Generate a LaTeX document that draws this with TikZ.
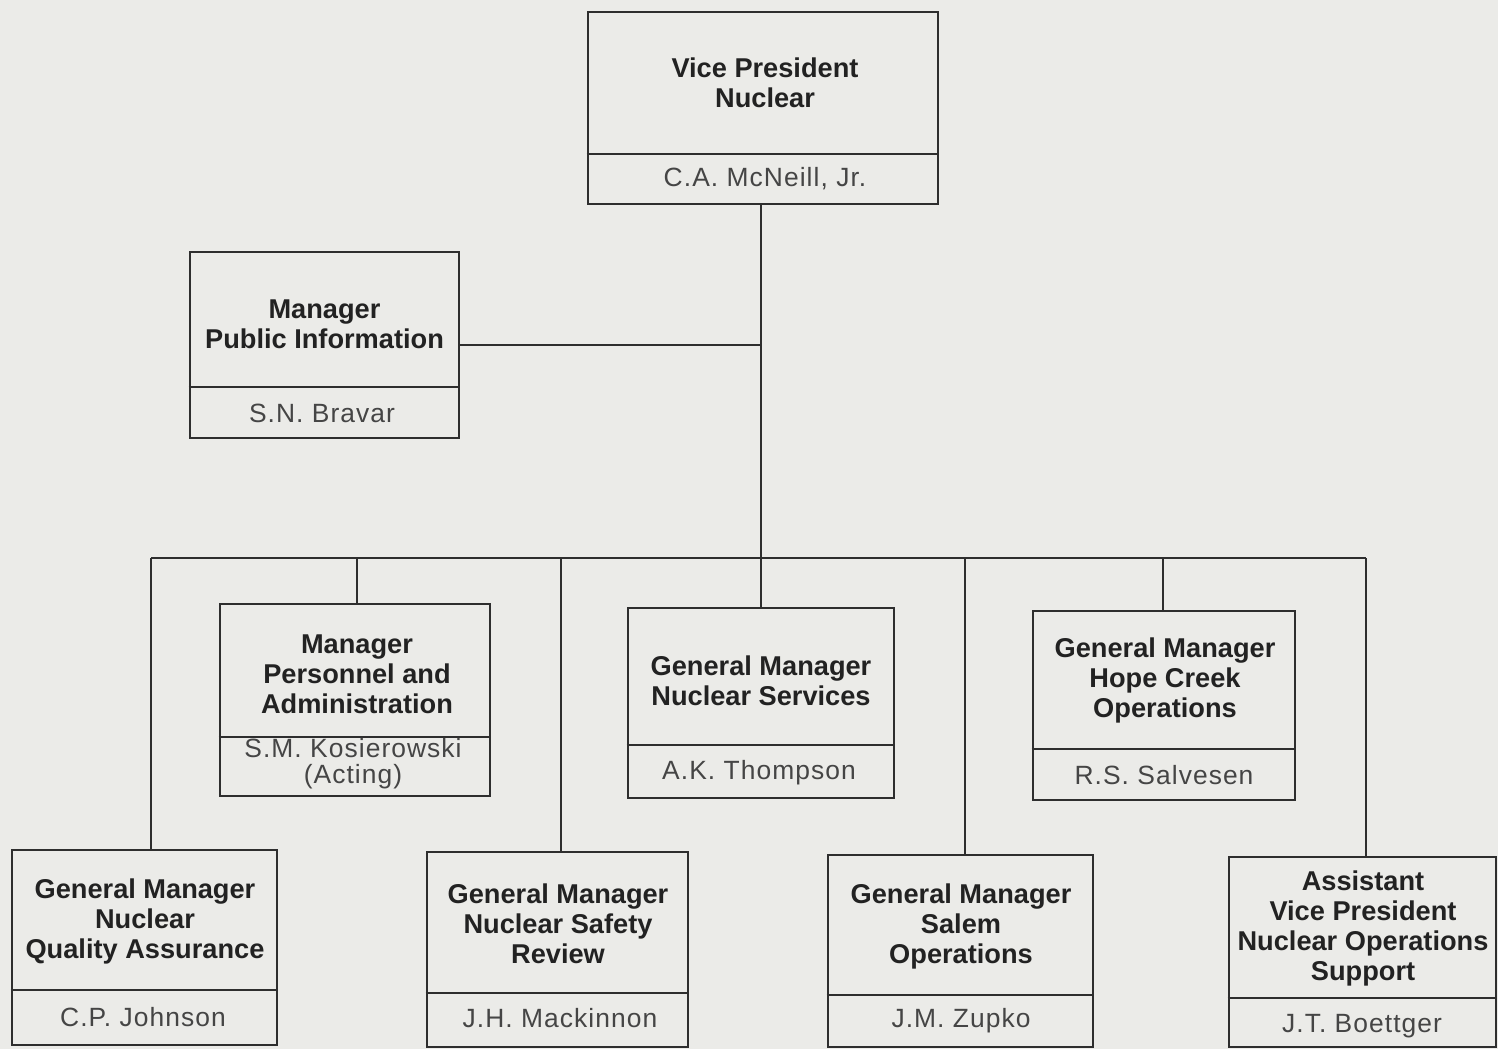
\documentclass[tikz,border=0pt]{standalone}
\usepackage{fontspec}
\setmainfont{Liberation Sans}
\definecolor{paper}{HTML}{EBEBE8}
\definecolor{ink}{HTML}{2E2E2E}
\definecolor{titleink}{HTML}{222222}
\definecolor{nameink}{HTML}{454545}
\begin{document}
\begin{tikzpicture}[x=0.5pt,y=-0.5pt,
  line width=1.4pt,
  color=ink,
  box/.style={draw=ink,line width=1.4pt,inner sep=0pt,rectangle},
  title/.style={align=center,text=titleink,font=\fontsize{13.6}{15}\selectfont\bfseries},
  person/.style={align=center,text=nameink,font=\fontsize{13.2}{13}\selectfont\addfontfeature{LetterSpace=4}}]
\fill[paper,draw=none] (0,0) rectangle (1498,1049);
\useasboundingbox (0,0) rectangle (1498,1049);

% boxes
\node[box,minimum width=175pt,minimum height=96pt] (vp) at (763,108) {};
\node[box,minimum width=134.5pt,minimum height=93pt] (pi) at (324.5,345) {};
\node[box,minimum width=135pt,minimum height=96pt] (per) at (355,700) {};
\node[box,minimum width=133pt,minimum height=95pt] (svc) at (761,703) {};
\node[box,minimum width=131pt,minimum height=94.5pt] (hc) at (1164,705.5) {};
\node[box,minimum width=132.5pt,minimum height=97.5pt] (qa) at (144.5,947.5) {};
\node[box,minimum width=130.5pt,minimum height=97.5pt] (nsr) at (557.5,949.5) {};
\node[box,minimum width=132.5pt,minimum height=96pt] (sal) at (960.5,951) {};
\node[box,minimum width=133.5pt,minimum height=95pt] (avp) at (1362.5,952) {};

% title / name dividers
\draw (vp.west |- 0,154) -- (vp.east |- 0,154);
\draw (pi.west |- 0,387) -- (pi.east |- 0,387);
\draw (per.west |- 0,737) -- (per.east |- 0,737);
\draw (svc.west |- 0,745) -- (svc.east |- 0,745);
\draw (hc.west |- 0,749) -- (hc.east |- 0,749);
\draw (qa.west |- 0,990) -- (qa.east |- 0,990);
\draw (nsr.west |- 0,993) -- (nsr.east |- 0,993);
\draw (sal.west |- 0,995) -- (sal.east |- 0,995);
\draw (avp.west |- 0,998) -- (avp.east |- 0,998);

% texts
\node[title] (vpT) at (765,83) {Vice President\\Nuclear};
\node[person] (vpN) at (765,179) {C.A. McNeill, Jr.};
\node[title] (piT) at (324.5,324) {Manager\\Public Information};
\node[person] (piN) at (322,413) {S.N. Bravar};
\node[title] (perT) at (357,674) {Manager\\Personnel and\\Administration};
\node[person] (perN) at (353,764) {S.M. Kosierowski\\(Acting)};
\node[title] (svcT) at (761,681) {General Manager\\Nuclear Services};
\node[person] (svcN) at (759,773) {A.K. Thompson};
\node[title] (hcT) at (1165,680) {General Manager\\Hope Creek\\Operations};
\node[person] (hcN) at (1164,775) {R.S. Salvesen};
\node[title] (qaT) at (145,921) {General Manager\\Nuclear\\Quality Assurance};
\node[person] (qaN) at (143,1017) {C.P. Johnson};
\node[title] (nsrT) at (558,924) {General Manager\\Nuclear Safety\\Review};
\node[person] (nsrN) at (560,1018) {J.H. Mackinnon};
\node[title] (salT) at (961,926) {General Manager\\Salem\\Operations};
\node[person] (salN) at (961,1021) {J.M. Zupko};
\node[title] (avpT) at (1363,928) {Assistant\\Vice President\\Nuclear Operations\\Support};
\node[person] (avpN) at (1362,1026) {J.T. Boettger};

% reporting lines
\coordinate (hub) at (761,558);
\coordinate (dQA) at (151,558);
\coordinate (dPER) at (357,558);
\coordinate (dNSR) at (561,558);
\coordinate (dSAL) at (965,558);
\coordinate (dHC) at (1163,558);
\coordinate (dAVP) at (1366,558);
\draw (vp.south -| hub) -- (hub) -- (hub |- svc.north);
\draw (pi.east) -- (pi.east -| hub);
\draw (dQA) -- (dAVP);
\draw (dQA) -- (dQA |- qa.north);
\draw (dPER) -- (dPER |- per.north);
\draw (dNSR) -- (dNSR |- nsr.north);
\draw (dSAL) -- (dSAL |- sal.north);
\draw (dHC) -- (dHC |- hc.north);
\draw (dAVP) -- (dAVP |- avp.north);
\end{tikzpicture}
\end{document}
